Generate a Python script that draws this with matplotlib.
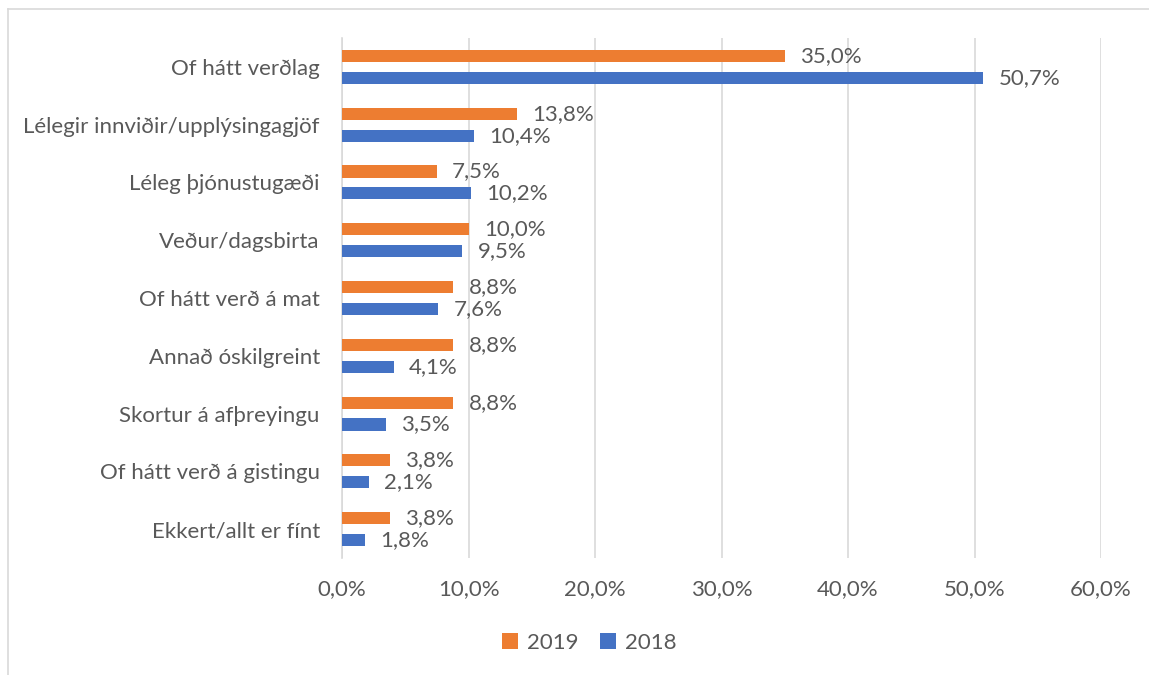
import numpy as np
import matplotlib.pyplot as plt

categories = ["Of hátt verðlag", "Lélegir innviðir/upplýsingagjöf", "Léleg þjónustugæði",
              "Veður/dagsbirta", "Of hátt verð á mat", "Annað óskilgreint",
              "Skortur á afþreyingu", "Of hátt verð á gistingu", "Ekkert/allt er fínt"]
vals_2019 = [35.0, 13.8, 7.5, 10.0, 8.8, 8.8, 8.8, 3.8, 3.8]
vals_2018 = [50.7, 10.4, 10.2, 9.5, 7.6, 4.1, 3.5, 2.1, 1.8]
xticks = [0, 10, 20, 30, 40, 50, 60]

orange = "#ED7D31"
blue = "#4472C4"
txt = "#595959"
plt.rcParams['font.family'] = ['Lato', 'DejaVu Sans']
fs = 16

fig = plt.figure(figsize=(11.49, 6.75), dpi=100)
ax = fig.add_axes([0.2977, 0.1733, 0.6606, 0.7704])

y = np.arange(len(categories))
h = 0.21
off = 0.19
ax.barh(y - off, vals_2019, height=h, color=orange, label="2019", zorder=3)
ax.barh(y + off, vals_2018, height=h, color=blue, label="2018", zorder=3)

def fmt(v):
    return f"{v:.1f}%".replace(".", ",")

for i in range(len(categories)):
    ax.text(vals_2019[i] + 1.2, y[i] - off, fmt(vals_2019[i]), va="center", ha="left",
            fontsize=fs, color=txt)
    ax.text(vals_2018[i] + 1.2, y[i] + off, fmt(vals_2018[i]), va="center", ha="left",
            fontsize=fs, color=txt)

ax.set_ylim(len(categories) - 0.5, -0.5)
ax.set_xlim(0, 60)
ax.set_xticks(xticks)
ax.set_xticklabels([fmt(t) for t in xticks], fontsize=fs, color=txt)
ax.set_yticks(y)
ax.set_yticklabels(categories, fontsize=fs, color=txt)
ax.tick_params(axis="both", length=0)
ax.tick_params(axis="x", pad=15)
ax.tick_params(axis="y", pad=16)
ax.grid(axis="x", color="#D9D9D9", linewidth=1.2, zorder=0)
for s in ["top", "right", "bottom"]:
    ax.spines[s].set_visible(False)
ax.spines["left"].set_color("#D9D9D9")
ax.spines["left"].set_linewidth(1.2)

ax.legend(loc="center", bbox_to_anchor=(0.513, 0.048), bbox_transform=fig.transFigure,
          ncol=2, frameon=False, fontsize=fs, labelcolor=txt, handlelength=0.7,
          handleheight=0.7, handletextpad=0.4, columnspacing=1.0)

# chart border (left and top)
fig.add_artist(plt.Line2D([0.007, 0.007], [0.0, 0.987], color="#D9D9D9", linewidth=1.2))
fig.add_artist(plt.Line2D([0.007, 1.0], [0.987, 0.987], color="#D9D9D9", linewidth=1.2))

fig.savefig("out.png", dpi=100)
